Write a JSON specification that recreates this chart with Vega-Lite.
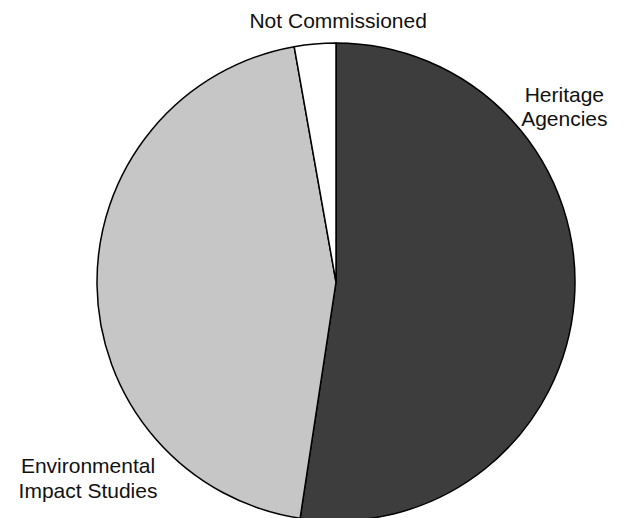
{
  "$schema": "https://vega.github.io/schema/vega-lite/v6.json",
  "width": 478,
  "height": 478,
  "autosize": {"type": "none"},
  "padding": {"left": 97, "top": 43, "right": 53, "bottom": 0},
  "background": "white",
  "config": {"view": {"stroke": null}},
  "data": {
    "values": [
      {"source": "Heritage Agencies", "label": "Heritage\nAgencies", "percent": 52.4, "rank": 1},
      {"source": "Environmental Impact Studies", "label": "Environmental\nImpact Studies", "percent": 44.8, "rank": 2},
      {"source": "Not Commissioned", "label": "Not Commissioned", "percent": 2.8, "rank": 3}
    ]
  },
  "encoding": {
    "theta": {"field": "percent", "type": "quantitative", "stack": true},
    "order": {"field": "rank", "type": "quantitative"}
  },
  "layer": [
    {
      "mark": {"type": "arc", "stroke": "#000000", "strokeWidth": 1.5},
      "encoding": {
        "color": {
          "field": "source",
          "type": "nominal",
          "scale": {
            "domain": ["Heritage Agencies", "Environmental Impact Studies", "Not Commissioned"],
            "range": ["#3d3d3d", "#c6c6c6", "#ffffff"]
          },
          "legend": null
        }
      }
    },
    {
      "mark": {"type": "text", "radius": 260, "dx": 25, "dy": 5, "font": "Liberation Sans", "fontSize": 21, "align": "center", "baseline": "alphabetic", "lineBreak": "\n", "lineHeight": 25, "color": "#111111"},
      "encoding": {"text": {"condition": {"test": "datum.source === 'Not Commissioned'", "field": "label"}, "value": ""}}
    },
    {
      "mark": {"type": "text", "radius": 230, "dx": -1, "dy": -197, "font": "Liberation Sans", "fontSize": 21, "align": "center", "baseline": "alphabetic", "lineBreak": "\n", "lineHeight": 24, "color": "#111111"},
      "encoding": {"text": {"condition": {"test": "datum.source === 'Heritage Agencies'", "field": "label"}, "value": ""}}
    },
    {
      "mark": {"type": "text", "radius": 250, "dx": 2, "dy": 188, "font": "Liberation Sans", "fontSize": 21, "align": "center", "baseline": "alphabetic", "lineBreak": "\n", "lineHeight": 25, "color": "#111111"},
      "encoding": {"text": {"condition": {"test": "datum.source === 'Environmental Impact Studies'", "field": "label"}, "value": ""}}
    }
  ]
}
